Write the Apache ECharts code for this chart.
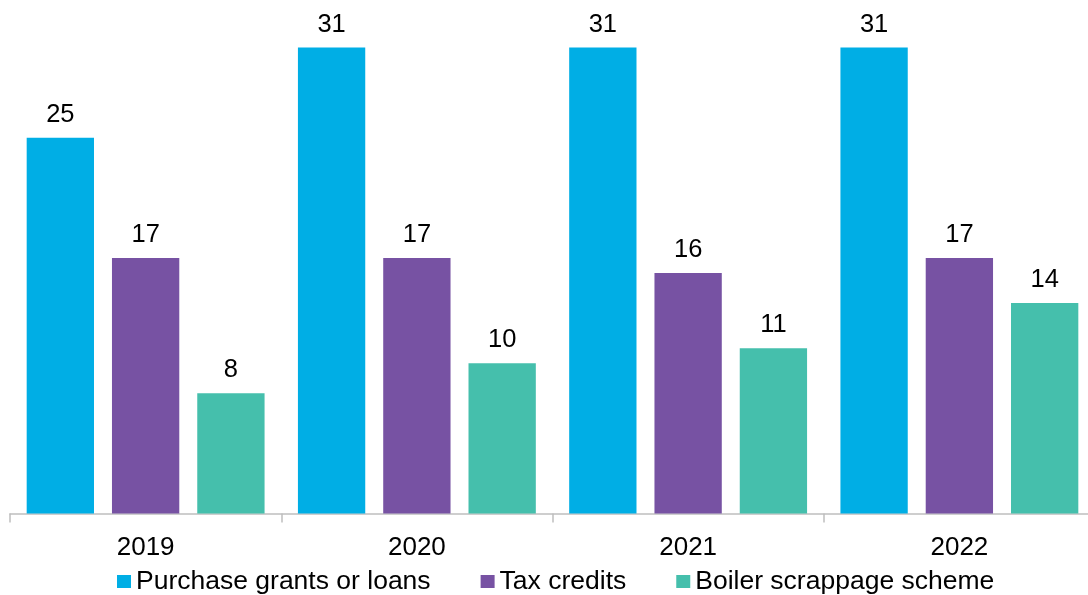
<!DOCTYPE html>
<html>
<head>
<meta charset="utf-8">
<script src="https://cdn.jsdelivr.net/npm/echarts@6/dist/echarts.min.js"></script>
<style>
html,body{margin:0;padding:0;background:#fff;}
#chart{width:1088px;height:595px;}
</style>
</head>
<body>
<div id="chart"></div>
<script>
const categories = ['2019', '2020', '2021', '2022'];
const seriesNames = ['Purchase grants or loans', 'Tax credits', 'Boiler scrappage scheme'];
const purchaseGrants = [25, 31, 31, 31];
const taxCredits = [17, 17, 16, 17];
const boilerScrappage = [8, 10, 11, 14];
const colors = ['#00AEE5', '#7752A3', '#45BFAC'];

const font = '"Liberation Sans", Arial, sans-serif';
const chart = echarts.init(document.getElementById('chart'), null, {renderer: 'canvas'});
const values = [purchaseGrants, taxCredits, boilerScrappage];
chart.setOption({
  animation: false,
  textStyle: {fontFamily: font},
  grid: {left: 10, width: 1085, top: 2.5, height: 511, containLabel: false, outerBoundsMode: 'none'},
  legend: {
    left: 117, top: 568, padding: 0,
    itemWidth: 14, itemHeight: 13, itemGap: 50,
    icon: 'rect',
    textStyle: {fontFamily: font, fontSize: 26.5, color: '#000'},
    data: seriesNames
  },
  xAxis: {
    type: 'category',
    data: categories,
    axisLine: {lineStyle: {color: '#BFBFBF', width: 1.5}},
    axisTick: {show: true, length: 9, lineStyle: {color: '#BFBFBF', width: 1.5}},
    axisLabel: {fontFamily: font, fontSize: 26, color: '#000', margin: 21}
  },
  yAxis: {
    type: 'value', min: 0, max: 34,
    show: false,
    splitLine: {show: false}
  },
  series: seriesNames.map((n, i) => ({
    name: n,
    type: 'bar',
    data: values[i],
    itemStyle: {color: colors[i]},
    barGap: '26.7%',
    barCategoryGap: '12.3%',
    label: {show: true, position: 'top', distance: 10, fontFamily: font, fontSize: 25.5, color: '#000'}
  }))
});
</script>
</body>
</html>
